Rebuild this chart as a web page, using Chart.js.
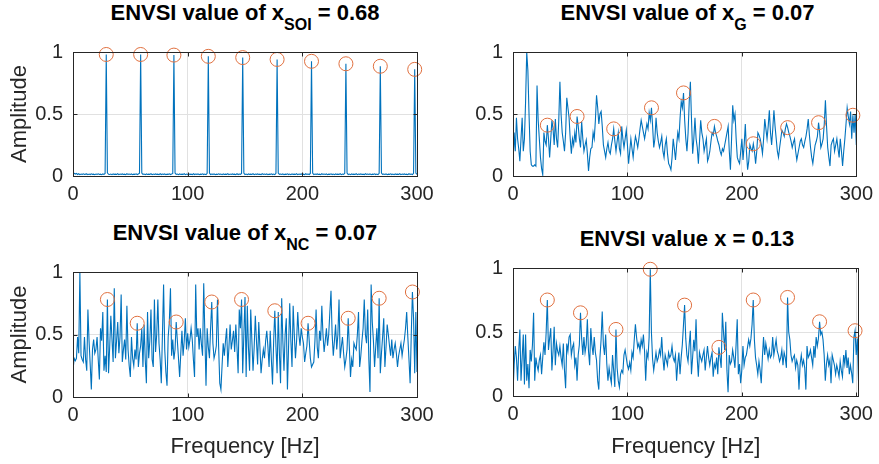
<!DOCTYPE html>
<html lang="en">
<head>
<meta charset="UTF-8">
<title>ENVSI spectra</title>
<script src="https://cdn.jsdelivr.net/npm/chart.js"></script>
<style>
  body { margin: 0; background: #fff; width: 879px; height: 464px; position: relative; overflow: hidden;
         font-family: "Liberation Sans", Arial, Helvetica, sans-serif; }
  canvas { position: absolute; }
  .ttl { position: absolute; text-align: center; font-weight: bold; font-size: 22px; line-height: 26px;
         color: #000; white-space: nowrap; }
  .ttl sub { font-size: 16px; vertical-align: baseline; position: relative; top: 10px; }
</style>
</head>
<body>

<div class="ttl" style="left:73px; width:344px; top:0px">ENVSI value of x<sub>SOI</sub> = 0.68</div>
<div class="ttl" style="left:513px; width:349px; top:0px">ENVSI value of x<sub>G</sub> = 0.07</div>
<div class="ttl" style="left:73px; width:344px; top:220px">ENVSI value of x<sub>NC</sub> = 0.07</div>
<div class="ttl" style="left:513px; width:348px; top:226px">ENVSI value x = 0.13</div>

<canvas id="pSOI" width="440" height="190" style="left:0px; top:30px"></canvas>
<canvas id="pG" width="439" height="190" style="left:440px; top:30px"></canvas>
<canvas id="pNC" width="440" height="214" style="left:0px; top:250px"></canvas>
<canvas id="pX" width="439" height="218" style="left:440px; top:246px"></canvas>

<script>
// envelope spectra, 1 Hz bins
const ampSOI = [
  0.024, 0.022, 0.016, 0.021, 0.012, 0.018, 0.011, 0.016, 0.013, 0.018,
  0.012, 0.015, 0.017, 0.011, 0.016, 0.012, 0.018, 0.013, 0.015, 0.011,
  0.016, 0.013, 0.018, 0.012, 0.015, 0.011, 0.017, 0.013, 0.020, 0.980,
  0.025, 0.014, 0.012, 0.016, 0.011, 0.017, 0.013, 0.015, 0.012, 0.018,
  0.011, 0.016, 0.013, 0.017, 0.012, 0.015, 0.011, 0.018, 0.013, 0.016,
  0.012, 0.017, 0.011, 0.015, 0.013, 0.018, 0.012, 0.016, 0.022, 0.980,
  0.024, 0.013, 0.016, 0.011, 0.017, 0.012, 0.015, 0.013, 0.018, 0.011,
  0.016, 0.012, 0.017, 0.013, 0.015, 0.011, 0.018, 0.012, 0.016, 0.013,
  0.017, 0.011, 0.015, 0.013, 0.018, 0.012, 0.016, 0.021, 0.975, 0.023,
  0.013, 0.016, 0.011, 0.017, 0.012, 0.015, 0.013, 0.018, 0.011, 0.016,
  0.012, 0.017, 0.013, 0.015, 0.011, 0.018, 0.012, 0.016, 0.013, 0.017,
  0.011, 0.015, 0.013, 0.018, 0.012, 0.016, 0.011, 0.022, 0.965, 0.024,
  0.012, 0.016, 0.013, 0.017, 0.011, 0.015, 0.012, 0.018, 0.013, 0.016,
  0.011, 0.017, 0.012, 0.015, 0.013, 0.018, 0.011, 0.016, 0.012, 0.017,
  0.013, 0.015, 0.011, 0.018, 0.012, 0.016, 0.013, 0.021, 0.955, 0.023,
  0.012, 0.016, 0.011, 0.017, 0.013, 0.015, 0.012, 0.018, 0.011, 0.016,
  0.013, 0.017, 0.012, 0.015, 0.011, 0.018, 0.013, 0.016, 0.012, 0.017,
  0.011, 0.015, 0.013, 0.018, 0.012, 0.016, 0.011, 0.022, 0.940, 0.024,
  0.013, 0.016, 0.012, 0.017, 0.011, 0.015, 0.013, 0.018, 0.012, 0.016,
  0.011, 0.017, 0.013, 0.015, 0.012, 0.018, 0.011, 0.016, 0.013, 0.017,
  0.012, 0.015, 0.011, 0.018, 0.013, 0.016, 0.012, 0.021, 0.925, 0.023,
  0.011, 0.016, 0.013, 0.017, 0.012, 0.015, 0.011, 0.018, 0.013, 0.016,
  0.012, 0.017, 0.011, 0.015, 0.013, 0.018, 0.012, 0.016, 0.011, 0.017,
  0.013, 0.015, 0.012, 0.018, 0.011, 0.016, 0.013, 0.022, 0.905, 0.024,
  0.012, 0.016, 0.011, 0.017, 0.013, 0.015, 0.012, 0.018, 0.011, 0.016,
  0.013, 0.017, 0.012, 0.015, 0.011, 0.018, 0.013, 0.016, 0.012, 0.017,
  0.011, 0.015, 0.013, 0.018, 0.012, 0.016, 0.011, 0.021, 0.885, 0.023,
  0.013, 0.016, 0.012, 0.017, 0.011, 0.015, 0.013, 0.018, 0.012, 0.016,
  0.011, 0.017, 0.013, 0.015, 0.012, 0.018, 0.011, 0.016, 0.013, 0.017,
  0.012, 0.015, 0.011, 0.018, 0.013, 0.016, 0.012, 0.022, 0.860, 0.024,
  0.013
];

const ampG = [
  0.08, 0.35, 0.20, 0.47, 0.30, 0.22, 0.12, 0.30, 0.47, 0.20,
  0.30, 0.60, 1.00, 0.85, 0.50, 0.20, 0.09, 0.08, 0.08, 0.09,
  0.08, 0.73, 0.45, 0.30, 0.15, 0.06, 0.01, 0.35, 0.28, 0.25,
  0.41, 0.30, 0.15, 0.30, 0.45, 0.38, 0.25, 0.46, 0.30, 0.23,
  0.45, 0.76, 0.50, 0.35, 0.28, 0.20, 0.35, 0.63, 0.55, 0.47,
  0.30, 0.18, 0.30, 0.25, 0.35, 0.27, 0.48, 0.40, 0.30, 0.23,
  0.44, 0.30, 0.20, 0.25, 0.29, 0.18, 0.04, 0.15, 0.22, 0.23,
  0.35, 0.30, 0.45, 0.65, 0.55, 0.42, 0.50, 0.52, 0.40, 0.25,
  0.20, 0.15, 0.22, 0.27, 0.20, 0.18, 0.25, 0.30, 0.38, 0.28,
  0.20, 0.28, 0.35, 0.22, 0.18, 0.40, 0.30, 0.23, 0.30, 0.37,
  0.25, 0.10, 0.20, 0.30, 0.22, 0.15, 0.25, 0.32, 0.28, 0.23,
  0.30, 0.38, 0.45, 0.40, 0.35, 0.30, 0.36, 0.42, 0.38, 0.51,
  0.45, 0.55, 0.40, 0.23, 0.30, 0.47, 0.35, 0.28, 0.23, 0.27,
  0.32, 0.20, 0.15, 0.25, 0.30, 0.18, 0.10, 0.08, 0.05, 0.15,
  0.30, 0.22, 0.13, 0.25, 0.35, 0.30, 0.47, 0.60, 0.55, 0.67,
  0.45, 0.30, 0.20, 0.35, 0.60, 0.76, 0.45, 0.18, 0.30, 0.47,
  0.30, 0.23, 0.10, 0.28, 0.45, 0.35, 0.30, 0.20, 0.25, 0.30,
  0.12, 0.15, 0.20, 0.28, 0.35, 0.33, 0.40, 0.35, 0.32, 0.28,
  0.25, 0.20, 0.17, 0.22, 0.20, 0.25, 0.30, 0.35, 0.40, 0.20,
  0.05, 0.30, 0.57, 0.45, 0.50, 0.30, 0.15, 0.12, 0.10, 0.20,
  0.30, 0.13, 0.25, 0.42, 0.20, 0.05, 0.12, 0.25, 0.22, 0.20,
  0.26, 0.20, 0.10, 0.20, 0.35, 0.33, 0.30, 0.25, 0.18, 0.30,
  0.46, 0.38, 0.30, 0.40, 0.53, 0.35, 0.25, 0.38, 0.53, 0.40,
  0.30, 0.20, 0.15, 0.23, 0.30, 0.37, 0.35, 0.32, 0.38, 0.42,
  0.39, 0.35, 0.32, 0.28, 0.23, 0.27, 0.30, 0.20, 0.13, 0.18,
  0.23, 0.28, 0.30, 0.25, 0.23, 0.28, 0.32, 0.38, 0.46, 0.33,
  0.23, 0.15, 0.10, 0.18, 0.25, 0.28, 0.32, 0.43, 0.35, 0.23,
  0.26, 0.30, 0.42, 0.61, 0.40, 0.23, 0.15, 0.08, 0.25, 0.28,
  0.30, 0.20, 0.25, 0.30, 0.22, 0.15, 0.30, 0.20, 0.08, 0.20,
  0.30, 0.42, 0.55, 0.48, 0.42, 0.52, 0.30, 0.49, 0.35, 0.50,
  0.25
];

const ampNC = [
  0.21, 0.31, 0.29, 0.31, 0.48, 0.35, 1.00, 0.33, 0.30, 0.28,
  0.48, 0.30, 0.21, 0.70, 0.45, 0.26, 0.06, 0.38, 0.46, 0.35,
  0.38, 0.48, 0.30, 0.14, 0.55, 0.45, 0.68, 0.21, 0.33, 0.20,
  0.78, 0.19, 0.40, 0.65, 0.46, 0.28, 0.87, 0.31, 0.45, 0.60,
  0.35, 0.48, 0.82, 0.28, 0.38, 0.46, 0.30, 0.73, 0.38, 0.25,
  0.16, 0.48, 0.31, 0.25, 0.38, 0.30, 0.59, 0.24, 0.35, 0.41,
  0.55, 0.24, 0.58, 0.30, 0.11, 0.68, 0.31, 0.45, 0.70, 0.30,
  0.24, 0.78, 0.36, 0.50, 0.78, 0.43, 0.30, 0.11, 0.50, 0.90,
  0.38, 0.20, 0.09, 0.48, 0.60, 0.87, 0.33, 0.46, 0.30, 0.38,
  0.60, 0.45, 0.31, 0.16, 0.35, 0.53, 0.33, 0.45, 0.63, 0.38,
  0.51, 0.40, 0.46, 0.55, 0.46, 0.30, 0.16, 0.90, 0.48, 0.55,
  0.38, 0.55, 0.42, 0.33, 0.91, 0.50, 0.09, 0.55, 0.40, 0.31,
  0.55, 0.76, 0.43, 0.31, 0.35, 0.41, 0.78, 0.40, 0.11, 0.06,
  0.25, 0.43, 0.33, 0.45, 0.55, 0.24, 0.40, 0.58, 0.38, 0.45,
  0.53, 0.36, 0.58, 0.40, 0.19, 0.70, 0.55, 0.78, 0.19, 0.50,
  0.80, 0.16, 0.73, 0.40, 0.21, 0.70, 0.45, 0.21, 0.40, 0.65,
  0.45, 0.26, 0.60, 0.40, 0.19, 0.30, 0.38, 0.31, 0.45, 0.53,
  0.40, 0.24, 0.53, 0.30, 0.10, 0.45, 0.69, 0.40, 0.19, 0.68,
  0.35, 0.11, 0.79, 0.45, 0.21, 0.50, 0.63, 0.06, 0.40, 0.75,
  0.45, 0.24, 0.73, 0.50, 0.31, 0.45, 0.68, 0.50, 0.41, 0.55,
  0.48, 0.43, 0.28, 0.35, 0.41, 0.59, 0.45, 0.31, 0.24, 0.26,
  0.28, 0.45, 0.70, 0.40, 0.31, 0.53, 0.45, 0.73, 0.50, 0.36,
  0.45, 0.55, 0.41, 0.50, 0.68, 0.85, 0.50, 0.33, 0.45, 0.58,
  0.38, 0.50, 0.78, 0.31, 0.40, 0.48, 0.35, 0.24, 0.30, 0.38,
  0.63, 0.40, 0.16, 0.30, 0.24, 0.43, 0.40, 0.38, 0.50, 0.68,
  0.24, 0.33, 0.45, 0.55, 0.78, 0.50, 0.43, 0.70, 0.30, 0.04,
  0.90, 0.60, 0.45, 0.24, 0.40, 0.55, 0.31, 0.79, 0.19, 0.35,
  0.48, 0.63, 0.24, 0.40, 0.58, 0.50, 0.41, 0.33, 0.46, 0.31,
  0.38, 0.43, 0.35, 0.24, 0.33, 0.38, 0.43, 0.33, 0.40, 0.46,
  0.55, 0.68, 0.48, 0.30, 0.11, 0.50, 0.84, 0.63, 0.19, 0.68,
  0.20
];

// this one runs two bins past 300 Hz
const ampX = [
  0.03, 0.24, 0.39, 0.30, 0.12, 0.35, 0.52, 0.12, 0.30, 0.48,
  0.09, 0.48, 0.12, 0.25, 0.06, 0.36, 0.27, 0.40, 0.65, 0.12,
  0.30, 0.24, 0.20, 0.28, 0.32, 0.17, 0.30, 0.42, 0.32, 0.50,
  0.75, 0.36, 0.45, 0.53, 0.20, 0.35, 0.54, 0.24, 0.41, 0.35,
  0.32, 0.39, 0.30, 0.24, 0.41, 0.20, 0.06, 0.41, 0.35, 0.46,
  0.48, 0.32, 0.38, 0.41, 0.24, 0.30, 0.12, 0.32, 0.40, 0.65,
  0.45, 0.32, 0.46, 0.34, 0.40, 0.60, 0.35, 0.24, 0.53, 0.40,
  0.32, 0.46, 0.34, 0.28, 0.12, 0.05, 0.30, 0.44, 0.66, 0.40,
  0.32, 0.48, 0.25, 0.12, 0.22, 0.15, 0.10, 0.32, 0.20, 0.07,
  0.52, 0.22, 0.12, 0.07, 0.17, 0.20, 0.18, 0.32, 0.36, 0.30,
  0.24, 0.21, 0.26, 0.20, 0.34, 0.30, 0.44, 0.56, 0.46, 0.38,
  0.41, 0.35, 0.44, 0.39, 0.48, 0.35, 0.12, 0.34, 0.30, 0.46,
  0.99, 0.50, 0.29, 0.20, 0.27, 0.34, 0.27, 0.30, 0.36, 0.32,
  0.46, 0.30, 0.20, 0.32, 0.28, 0.24, 0.34, 0.30, 0.32, 0.39,
  0.30, 0.27, 0.32, 0.12, 0.25, 0.34, 0.17, 0.30, 0.40, 0.55,
  0.71, 0.45, 0.32, 0.27, 0.40, 0.51, 0.17, 0.30, 0.44, 0.35,
  0.60, 0.30, 0.15, 0.34, 0.30, 0.27, 0.32, 0.36, 0.20, 0.30,
  0.39, 0.30, 0.24, 0.30, 0.34, 0.15, 0.25, 0.22, 0.30, 0.17,
  0.38, 0.30, 0.22, 0.65, 0.50, 0.36, 0.58, 0.20, 0.03, 0.32,
  0.25, 0.27, 0.36, 0.30, 0.22, 0.40, 0.60, 0.17, 0.25, 0.10,
  0.20, 0.39, 0.24, 0.30, 0.32, 0.38, 0.44, 0.39, 0.45, 0.56,
  0.75, 0.44, 0.30, 0.24, 0.17, 0.27, 0.20, 0.10, 0.30, 0.46,
  0.32, 0.41, 0.35, 0.29, 0.36, 0.30, 0.32, 0.46, 0.32, 0.38,
  0.44, 0.35, 0.32, 0.27, 0.30, 0.36, 0.24, 0.34, 0.30, 0.22,
  0.77, 0.50, 0.44, 0.32, 0.27, 0.30, 0.32, 0.22, 0.28, 0.24,
  0.05, 0.25, 0.32, 0.24, 0.28, 0.22, 0.05, 0.39, 0.30, 0.32,
  0.36, 0.30, 0.24, 0.39, 0.30, 0.46, 0.39, 0.45, 0.58, 0.48,
  0.50, 0.44, 0.32, 0.12, 0.25, 0.32, 0.24, 0.28, 0.10, 0.32,
  0.28, 0.24, 0.17, 0.24, 0.20, 0.15, 0.27, 0.20, 0.15, 0.32,
  0.25, 0.36, 0.22, 0.30, 0.17, 0.24, 0.18, 0.10, 0.46, 0.51,
  0.32, 0.45, 0.12
];

// bins marked with circles (the shaft-rate harmonics)
const peaksSOI = [29, 59, 88, 118, 148, 178, 208, 238, 268, 298];
const peaksG   = [30, 56, 88, 121, 149, 176, 210, 240, 267, 297];
const peaksNC  = [30, 56, 90, 121, 147, 176, 205, 240, 267, 296];
const peaksX   = [30, 59, 90, 120, 150, 180, 210, 240, 268, 299];

const xTicks = [0, 100, 200, 300];
const yTicks = [0, 0.5, 1];
const yTickLabels = ['0', '0.5', '1'];

const FONT = '"Liberation Sans", Arial, Helvetica, sans-serif';
const INK = '#262626';
const LINE_BLUE = '#0072BD';
const MARK_ORANGE = '#E0703F';

// MATLAB-ish axes: dark box with short inward ticks on all four sides
const axesBox = {
  id: 'axesBox',
  afterDraw(chart) {
    const { ctx, chartArea: a, scales: { x, y } } = chart;
    const L = Math.round(a.left) + 0.5, R = Math.round(a.right) + 0.5;
    const T = Math.round(a.top) + 0.5, B = Math.round(a.bottom) + 0.5;
    ctx.save();
    ctx.strokeStyle = INK;
    ctx.lineWidth = 1;
    ctx.strokeRect(L, T, R - L, B - T);
    ctx.beginPath();
    xTicks.forEach(v => {
      const px = Math.round(x.getPixelForValue(v)) + 0.5;
      ctx.moveTo(px, B); ctx.lineTo(px, B - 4);
      ctx.moveTo(px, T); ctx.lineTo(px, T + 4);
    });
    yTicks.forEach(v => {
      const py = Math.round(y.getPixelForValue(v)) + 0.5;
      ctx.moveTo(L, py); ctx.lineTo(L + 4, py);
      ctx.moveTo(R, py); ctx.lineTo(R - 4, py);
    });
    ctx.stroke();
    ctx.restore();
  }
};

function spectrumPanel(id, amp, peaks, p) {
  const pts = amp.map((v, i) => ({ x: i, y: v }));
  const marks = peaks.map(i => ({ x: i, y: amp[i] }));

  return new Chart(document.getElementById(id), {
    type: 'line',
    data: {
      datasets: [{
        data: marks,
        showLine: false,
        pointRadius: 7,
        pointBorderWidth: 1,
        pointBorderColor: MARK_ORANGE,
        pointBackgroundColor: 'rgba(0,0,0,0)',
        clip: false
      }, {
        data: pts,
        borderColor: LINE_BLUE,
        borderWidth: 1.1,
        pointRadius: 0,
        tension: 0
      }]
    },
    options: {
      responsive: false,
      animation: false,
      events: [],
      layout: { autoPadding: false, padding: { left: 0, top: p.top, right: p.right, bottom: 0 } },
      plugins: { legend: { display: false }, tooltip: { enabled: false } },
      scales: {
        x: {
          type: 'linear',
          min: 0,
          max: p.xMax,
          afterBuildTicks: s => { s.ticks = xTicks.map(v => ({ value: v })); },
          afterFit: s => { s.height = p.xHeight; },
          grid: { color: '#e1e1e1', drawTicks: false },
          border: { display: false },
          ticks: { color: INK, font: { family: FONT, size: 20 }, padding: 6, maxRotation: 0, autoSkip: false },
          title: {
            display: !!p.xTitle,
            text: p.xTitle,
            color: INK,
            font: { family: FONT, size: 22 },
            padding: { top: 0, bottom: 4 }
          }
        },
        y: {
          min: 0,
          max: 1,
          afterBuildTicks: s => { s.ticks = yTicks.map(v => ({ value: v })); },
          afterFit: s => { s.width = 73; },
          grid: { color: '#e1e1e1', drawTicks: false },
          border: { display: false },
          ticks: {
            color: INK,
            font: { family: FONT, size: 20 },
            padding: 10,
            callback: v => yTickLabels[yTicks.indexOf(v)]
          },
          title: {
            display: !!p.yTitle,
            text: p.yTitle,
            color: INK,
            font: { family: FONT, size: 22 },
            padding: { top: 7, bottom: 0 }
          }
        }
      }
    },
    plugins: [axesBox]
  });
}

spectrumPanel('pSOI', ampSOI, peaksSOI, { top: 11, right: 23, xMax: 300, xHeight: 44, yTitle: 'Amplitude' });
spectrumPanel('pG', ampG, peaksG, { top: 10, right: 17, xMax: 300, xHeight: 44 });
spectrumPanel('pNC', ampNC, peaksNC, { top: 11, right: 23, xMax: 300, xHeight: 67, yTitle: 'Amplitude', xTitle: 'Frequency [Hz]' });
spectrumPanel('pX', ampX, peaksX, { top: 11, right: 18, xMax: 302, xHeight: 68, xTitle: 'Frequency [Hz]' });
</script>
</body>
</html>
